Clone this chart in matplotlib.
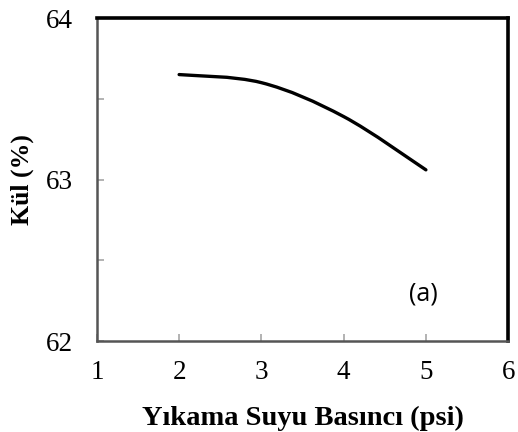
import numpy as np
import matplotlib
matplotlib.use('Agg')
import matplotlib.pyplot as plt
from matplotlib.path import Path
from matplotlib.patches import PathPatch
from matplotlib.ticker import MultipleLocator

# ---------- data ----------
pressure = [2, 3, 4, 5]
ash      = [63.65, 63.60, 63.39, 63.06]
x_ticks  = [1, 2, 3, 4, 5, 6]
y_ticks  = [62, 63, 64]

# ---------- smooth line (excel-like, catmull-rom -> bezier) ----------
def smooth_path(xs, ys, t=0.5):
    p = np.column_stack([xs, ys]).astype(float)
    verts = [p[0]]
    codes = [Path.MOVETO]
    n = len(p)
    for i in range(n - 1):
        p0 = p[i - 1] if i > 0 else p[i]
        p3 = p[i + 2] if i + 2 < n else p[i + 1]
        c1 = p[i] + (p[i + 1] - p0) * t / 3
        c2 = p[i + 1] - (p3 - p[i]) * t / 3
        verts += [c1, c2, p[i + 1]]
        codes += [Path.CURVE4] * 3
    return Path(verts, codes)

fig = plt.figure(figsize=(5.18, 4.32), dpi=100)
ax = fig.add_axes([0.187, 0.2106, 0.794, 0.7476])

ax.add_patch(PathPatch(smooth_path(pressure, ash, t=0.5), fill=False,
                       lw=2.4, color='black', capstyle='round'))

ax.set_xlim(1, 6); ax.set_ylim(62, 64)
ax.set_xticks(x_ticks); ax.set_yticks(y_ticks)
ax.yaxis.set_minor_locator(MultipleLocator(0.5))

serif = 'Liberation Serif'
for lab in ax.get_xticklabels() + ax.get_yticklabels():
    lab.set_fontfamily(serif); lab.set_fontsize(19.5)
ax.tick_params(which='both', direction='in', length=5, width=1.2, color='#a6a6a6')
ax.tick_params(axis='y', pad=17)
ax.tick_params(axis='x', pad=14)

for s in ['left', 'bottom']:
    ax.spines[s].set_color('#555555'); ax.spines[s].set_linewidth(1.8)
for s in ['top', 'right']:
    ax.spines[s].set_color('black'); ax.spines[s].set_linewidth(2.6)

ax.set_xlabel('Yıkama Suyu Basıncı (psi)', fontfamily=serif, fontsize=20.5,
              fontweight='bold', labelpad=15)
ax.set_ylabel('Kül (%)', fontfamily=serif, fontsize=18.5, fontweight='bold',
              labelpad=9)
ax.text(4.97, 62.29, '(a)', fontfamily='Open Sans', fontsize=18,
        ha='center', va='center')

fig.savefig('out.png', dpi=100)
